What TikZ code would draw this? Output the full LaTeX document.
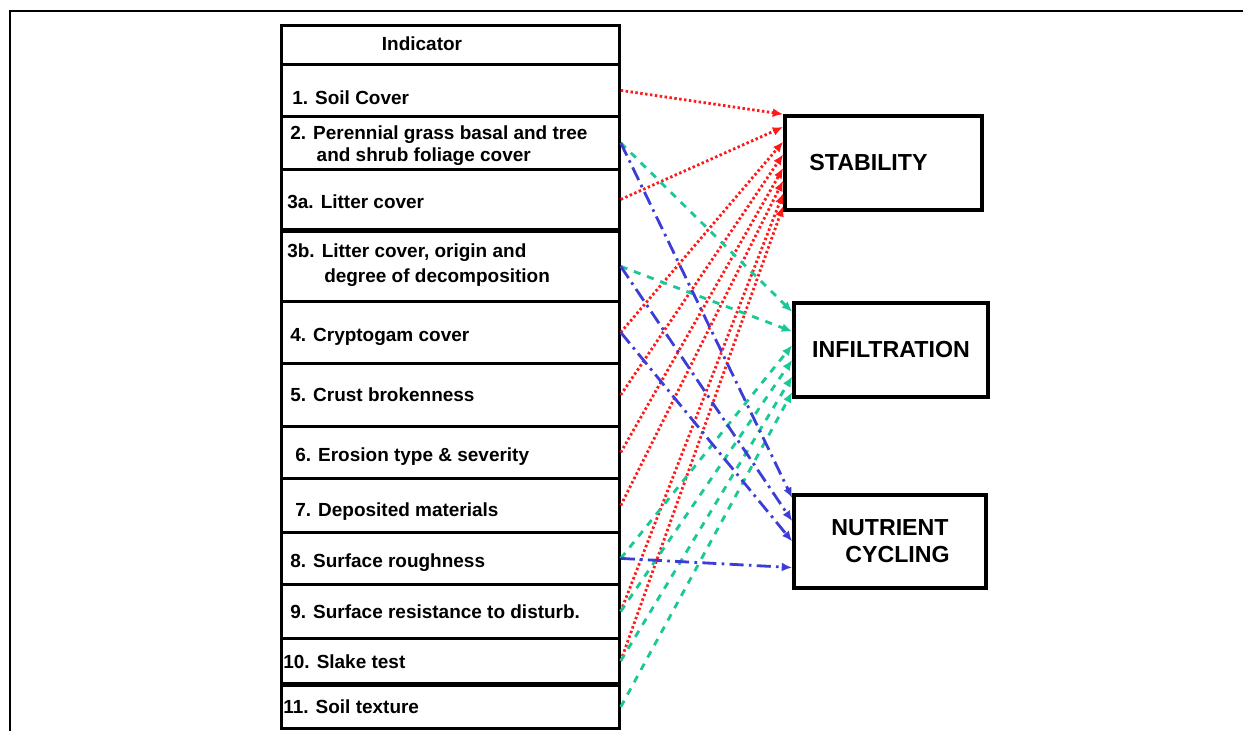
\documentclass[tikz,border=0pt]{standalone}
\usepackage{fontspec}
\setmainfont{Liberation Sans}
\usetikzlibrary{calc,arrows.meta}

\definecolor{stabred}{RGB}{255,25,25}
\definecolor{infgreen}{RGB}{25,200,150}
\definecolor{nutblue}{RGB}{60,60,215}

\tikzset{
  cell/.style={draw, line width=1.6pt, minimum width=6.76cm, inner sep=0pt, anchor=north west},
  lbl/.style={anchor=west, inner sep=0pt, font=\fontsize{10.8}{12.5}\selectfont\bfseries, align=left},
  target/.style={draw, line width=2pt, inner sep=0pt, font=\fontsize{13.2}{15.5}\selectfont\bfseries, align=center},
  link/.style={-{Latex[length=6pt,width=5pt]}, line width=1.6pt},
  tostab/.style={link, stabred, dash pattern=on 1.4pt off 1.4pt},
  toinf/.style={link, infgreen, dash pattern=on 4pt off 4pt},
  tonut/.style={link, nutblue, dash pattern=on 8pt off 3pt on 1.5pt off 3pt}
}

\begin{document}
\begin{tikzpicture}[x=0.02cm, y=-0.02cm]
  \useasboundingbox (0,0) rectangle (1243,731);
  \draw[line width=1.1pt] (1243,11) -- (10,11) -- (10,731);

  \node[cell, minimum height=0.78cm] (ind) at (280,24) {};
  \node[lbl, anchor=center] (indt) at (422,44) {Indicator};
  \node[cell, minimum height=1.04cm] (c1) at (280,63) {};
  \node[lbl] (t1) at (292,98) {1. Soil Cover};
  \node[cell, minimum height=1.06cm] (c2) at (280,115) {};
  \node[lbl] (t2) at (290,146) {2. Perennial grass basal and tree\\\hspace*{15pt}and shrub foliage cover};
  \node[cell, minimum height=1.2cm] (c3a) at (280,168) {};
  \node[lbl] (t3a) at (287,202) {3a. Litter cover};
  \node[cell, minimum height=1.4cm] (c3b) at (280,230) {};
  \node[lbl] (t3b) at (287,265) {3b. Litter cover, origin and\\[2pt]\hspace*{21pt}degree of decomposition};
  \node[cell, minimum height=1.24cm] (c4) at (280,300) {};
  \node[lbl] (t4) at (290,337) {4. Cryptogam cover};
  \node[cell, minimum height=1.26cm] (c5) at (280,362) {};
  \node[lbl] (t5) at (290,395) {5. Crust brokenness};
  \node[cell, minimum height=1.04cm] (c6) at (280,425) {};
  \node[lbl] (t6) at (295,457) {6. Erosion type \& severity};
  \node[cell, minimum height=1.08cm] (c7) at (280,477) {};
  \node[lbl] (t7) at (295,512) {7. Deposited materials};
  \node[cell, minimum height=1.04cm] (c8) at (280,531) {};
  \node[lbl] (t8) at (290,563) {8. Surface roughness};
  \node[cell, minimum height=1.08cm] (c9) at (280,583) {};
  \node[lbl] (t9) at (290,612) {9. Surface resistance to disturb.};
  \node[cell, minimum height=0.9cm] (c10) at (280,637) {};
  \node[lbl] (t10) at (283,662) {10. Slake test};
  \node[cell, minimum height=0.86cm] (c11) at (280,684) {};
  \node[lbl] (t11) at (283,707) {11. Soil texture};

  \node[target, minimum width=3.94cm, minimum height=1.88cm] (stab) at (883.5,163) {STABILITY\hspace*{0.6cm}};
  \node[target, minimum width=3.88cm, minimum height=1.88cm] (infil) at (891,350) {INFILTRATION};
  \node[target, minimum width=3.84cm, minimum height=1.86cm] (nutr) at (890,541.5) {NUTRIENT\\\hspace*{0.3cm}CYCLING};

  \draw[tostab] (c1.east) -- (stab.north west);
  \draw[tostab] (c3a.east) -- ($(stab.north west)!0.13!(stab.south west)$);
  \draw[tostab] (c4.east) -- ($(stab.north west)!0.28!(stab.south west)$);
  \draw[tostab] (c5.east) -- ($(stab.north west)!0.41!(stab.south west)$);
  \draw[tostab] (c6.east) -- ($(stab.north west)!0.55!(stab.south west)$);
  \draw[tostab] (c7.east) -- ($(stab.north west)!0.68!(stab.south west)$);
  \draw[tostab] (c9.east) -- ($(stab.north west)!0.81!(stab.south west)$);
  \draw[tostab] (c10.east) -- ($(stab.north west)!0.94!(stab.south west)$);

  \draw[toinf] (c2.east) -- ($(infil.north west)!0.11!(infil.south west)$);
  \draw[toinf] (c3b.east) -- ($(infil.north west)!0.31!(infil.south west)$);
  \draw[toinf] (c8.east) -- ($(infil.north west)!0.45!(infil.south west)$);
  \draw[toinf] (c9.east) -- ($(infil.north west)!0.6!(infil.south west)$);
  \draw[toinf] (c10.east) -- ($(infil.north west)!0.77!(infil.south west)$);
  \draw[toinf] (c11.east) -- ($(infil.north west)!0.93!(infil.south west)$);

  \draw[tonut] (c2.east) -- ($(nutr.north west)!0.05!(nutr.south west)$);
  \draw[tonut] (c3b.east) -- ($(nutr.north west)!0.29!(nutr.south west)$);
  \draw[tonut] (c4.east) -- ($(nutr.north west)!0.5!(nutr.south west)$);
  \draw[tonut] (c8.east) -- ($(nutr.north west)!0.77!(nutr.south west)$);
\end{tikzpicture}
\end{document}
